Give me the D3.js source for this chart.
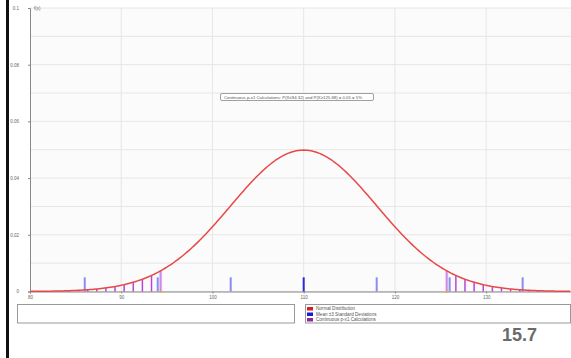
<!DOCTYPE html>
<html>
<head>
<meta charset="utf-8">
<script src="https://cdn.jsdelivr.net/npm/d3@7"></script>
<style>
  body { margin: 0; background: #fff; }
  svg { display: block; font-family: "Liberation Sans", Arial, sans-serif; }
</style>
</head>
<body>
<div id="chart"></div>
<script>
// distribution parameters
const mean = 110;
const sd = 8;
const xTicks = [80, 90, 100, 110, 120, 130];
const yTicks = [0, 0.02, 0.04, 0.06, 0.08, 0.1];
const yTickLabels = ["0", "0.02", "0.04", "0.06", "0.08", "0.1"];
const sdMarks = [86, 94, 102, 110, 118, 126, 134];
const sdMarkHeight = 0.005;
const leftCalc = [94.32, 93.32, 92.32, 91.32, 90.32, 89.32, 88.32, 87.32, 86.32, 85.32, 84.32, 83.32];
const rightCalc = [125.68, 126.68, 127.68, 128.68, 129.68, 130.68, 131.68, 132.68, 133.68, 134.68, 135.68, 136.68];
const legendItems = ["Normal Distribution", "Mean ±3 Standard Deviations", "Continuous p-x1 Calculations"];
const legendColors = ["#d42020", "#1a1ad0", "#8a2a9a"];
const noteText = "Continuous p-x1 Calculations: P(X\u226494.32) and P(X\u2265125.68) = 0.05 = 5%";

const W = 571, H = 358;
const svg = d3.select("#chart").append("svg")
  .attr("width", W).attr("height", H);

// left black edge
svg.append("rect").attr("x", 6).attr("y", 0).attr("width", 3).attr("height", H).attr("fill", "#111");

const x = d3.scaleLinear().domain([80, 139.3]).range([30, 571]);
const y = d3.scaleLinear().domain([0, 0.1]).range([291.5, 8]);

const pdf = v => Math.exp(-0.5 * ((v - mean) / sd) ** 2) / (sd * Math.sqrt(2 * Math.PI));

// plot background
svg.append("rect").attr("x", 30).attr("y", 8).attr("width", 541).attr("height", 283.5).attr("fill", "#fbfbfb");

// grid
const g = svg.append("g");
g.selectAll(".hg").data(d3.range(0, 0.1001, 0.01)).join("line")
  .attr("x1", 30).attr("x2", 571)
  .attr("y1", d => y(d)).attr("y2", d => y(d))
  .attr("stroke", "#e6e6e6").attr("stroke-width", 1);
g.selectAll(".vg").data(xTicks.slice(1)).join("line")
  .attr("x1", d => x(d)).attr("x2", d => x(d))
  .attr("y1", 8).attr("y2", 291.5)
  .attr("stroke", "#e6e6e6").attr("stroke-width", 1);

// axes
const yAxis = svg.append("g").attr("transform", "translate(30,0)")
  .call(d3.axisLeft(y).tickValues(yTicks).tickFormat((d, i) => yTickLabels[i]).tickSize(2).tickPadding(9));
const xAxis = svg.append("g").attr("transform", "translate(0,291.5)")
  .call(d3.axisBottom(x).tickValues(xTicks).tickFormat(d3.format("d")).tickSize(2).tickPadding(2));
[yAxis, xAxis].forEach(a => {
  a.select(".domain").attr("stroke", "#888");
  a.selectAll(".tick line").attr("stroke", "#888");
  a.selectAll("text").attr("fill", "#666").style("font-size", "4.5px");
});
svg.append("text").attr("x", 34).attr("y", 10).text("f(x)")
  .attr("fill", "#666").style("font-size", "4.5px");

// mean ± sd bars
svg.selectAll(".sd").data(sdMarks).join("rect")
  .attr("x", d => x(d) - 1).attr("width", 2)
  .attr("y", y(sdMarkHeight)).attr("height", y(0) - y(sdMarkHeight))
  .attr("fill", d => d === mean ? "#2a2ad8" : "#8c8cf0");

// continuous calculation lines
svg.selectAll(".calc").data(leftCalc.concat(rightCalc)).join("line")
  .attr("x1", d => x(d)).attr("x2", d => x(d))
  .attr("y1", y(0)).attr("y2", d => y(pdf(d)))
  .attr("stroke", "#b844d8").attr("stroke-width", 1.5);
svg.selectAll(".crit").data([leftCalc[0], rightCalc[0]]).join("rect")
  .attr("x", d => x(d) - 1.5).attr("width", 3)
  .attr("y", d => y(pdf(d))).attr("height", d => y(0) - y(pdf(d)))
  .attr("fill", "#d8a8f0").attr("opacity", 0.7);
svg.selectAll(".critm").data([leftCalc[0], rightCalc[0]]).join("line")
  .attr("x1", d => x(d) - 2).attr("x2", d => x(d) + 2)
  .attr("y1", y(0) + 0.5).attr("y2", y(0) + 0.5)
  .attr("stroke", "#e8b030").attr("stroke-width", 1.2);

// normal curve
const curvePts = d3.range(80, 139.31, 0.2);
svg.append("path").datum(curvePts)
  .attr("d", d3.line().x(d => x(d)).y(d => y(pdf(d))))
  .attr("fill", "none").attr("stroke", "#e84848").attr("stroke-width", 1.5);

// note box
svg.append("rect").attr("x", 220.5).attr("y", 93.5).attr("width", 153).attr("height", 7)
  .attr("rx", 1.5).attr("fill", "#fff").attr("stroke", "#888").attr("stroke-width", 0.8);
svg.append("text").attr("x", 224).attr("y", 98.6).text(noteText)
  .attr("fill", "#555").style("font-size", "4.3px");

// bottom boxes
svg.append("rect").attr("x", 17.5).attr("y", 304.5).attr("width", 277).attr("height", 18.5)
  .attr("fill", "#fff").attr("stroke", "#999");
svg.append("rect").attr("x", 305.5).attr("y", 304.5).attr("width", 265).attr("height", 18.5)
  .attr("fill", "#fff").attr("stroke", "#999");
const leg = svg.selectAll(".leg").data(legendItems).join("g")
  .attr("transform", (d, i) => `translate(307,${307 + i * 5.5})`);
leg.append("rect").attr("width", 6).attr("height", 3.5).attr("fill", (d, i) => legendColors[i]);
leg.append("text").attr("x", 9).attr("y", 3.4).text(d => d)
  .attr("fill", "#555").style("font-size", "4.6px");

// page number
svg.append("text").attr("x", 502).attr("y", 341).text("15.7")
  .attr("fill", "#6a6a6a").style("font-size", "18px").style("font-weight", "bold");
</script>
</body>
</html>
